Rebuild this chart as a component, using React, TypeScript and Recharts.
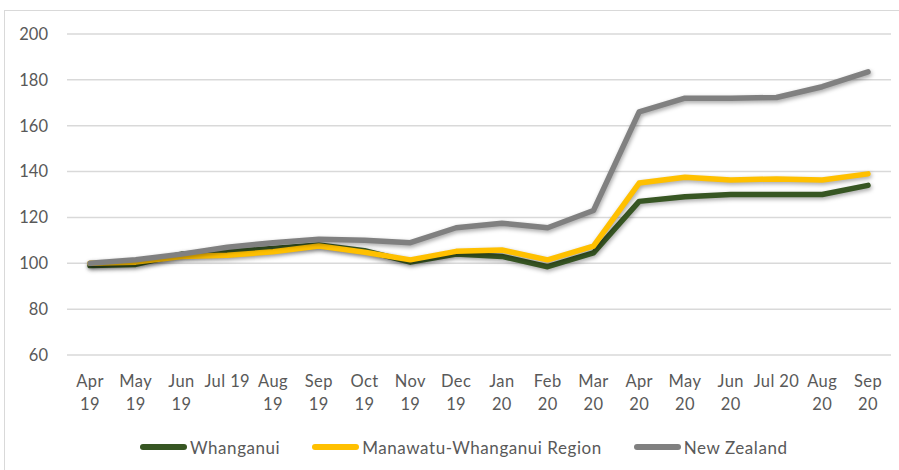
import React from 'react';
import { LineChart, Line, XAxis, YAxis, CartesianGrid, Legend } from 'recharts';

const months = [
  'Apr\n19', 'May\n19', 'Jun\n19', 'Jul 19', 'Aug\n19', 'Sep\n19', 'Oct\n19', 'Nov\n19', 'Dec\n19',
  'Jan\n20', 'Feb\n20', 'Mar\n20', 'Apr\n20', 'May\n20', 'Jun\n20', 'Jul 20', 'Aug\n20', 'Sep\n20',
];

const whanganui = [99, 99.5, 104, 105, 106.5, 108, 105.5, 100.5, 104, 103, 98.5, 104.5, 127, 129, 130, 130, 130, 134];
const manawatu = [100, 100.5, 103, 103.5, 105, 107.5, 104.8, 101.5, 105.2, 105.8, 101.5, 107.5, 135, 137.5, 136.3, 136.8, 136.3, 139];
const newZealand = [100, 101.5, 104, 107, 109, 110.5, 110, 109, 115.5, 117.5, 115.5, 123, 166, 172, 172, 172.3, 177, 183.5];

const yTicks = [60, 80, 100, 120, 140, 160, 180, 200];

const seriesInfo = [
  { key: 'whanganui', name: 'Whanganui', color: '#375623' },
  { key: 'manawatu', name: 'Manawatu-Whanganui Region', color: '#FFC000' },
  { key: 'nz', name: 'New Zealand', color: '#808080' },
];

const data = months.map((m, i) => ({
  month: m,
  whanganui: whanganui[i],
  manawatu: manawatu[i],
  nz: newZealand[i],
}));

const FONT = 'Lato, "Liberation Sans", sans-serif';
const TEXT = '#595959';

const MonthTick = (props: any) => {
  const { x, y, payload } = props;
  const lines = String(payload.value).split('\n');
  return (
    <text x={x} y={y} textAnchor="middle" fill={TEXT} fontSize={16.5} fontFamily={FONT} letterSpacing={0.4}>
      {lines.map((l, i) => (
        <tspan key={i} x={x} dy={i === 0 ? 24 : 23}>{l}</tspan>
      ))}
    </text>
  );
};

const LegendBox = () => (
  <div style={{ display: 'flex', alignItems: 'center', fontFamily: FONT, fontSize: 17, letterSpacing: 0.55, color: TEXT, height: 20 }}>
    {seriesInfo.map((s) => (
      <div key={s.key} style={{ display: 'flex', alignItems: 'center', marginRight: 32 }}>
        <div style={{ width: 47, height: 6, borderRadius: 3, background: s.color, marginRight: 3 }} />
        <span>{s.name}</span>
      </div>
    ))}
  </div>
);

export default function App() {
  return (
    <div
      style={{
        position: 'absolute',
        left: 4,
        top: 10,
        width: 900,
        height: 470,
        borderTop: '1px solid #d9d9d9',
        borderLeft: '1px solid #d9d9d9',
        background: '#fff',
      }}
    >
      <LineChart width={894} height={459} data={data} margin={{ top: 23, right: 8, bottom: 13, left: 0 }}>
        <CartesianGrid horizontal vertical={false} stroke="#d9d9d9" strokeWidth={1.5} />
        <XAxis
          dataKey="month"
          interval={0}
          axisLine={false}
          tickLine={false}
          height={82}
          padding={{ left: 23, right: 23 }}
          tick={<MonthTick />}
        />
        <YAxis
          domain={[60, 200]}
          ticks={yTicks}
          width={62}
          axisLine={false}
          tickLine={false}
          tickSize={0}
          tickMargin={19}
          tick={{ fill: TEXT, fontSize: 16.5, fontFamily: FONT }}
        />
        <Legend verticalAlign="bottom" wrapperStyle={{ left: 135, width: 740 }} content={<LegendBox />} />
        {seriesInfo.map((s) => (
          <Line
            key={s.key}
            type="linear"
            dataKey={s.key}
            name={s.name}
            stroke={s.color}
            strokeWidth={5.5}
            strokeLinejoin="round"
            strokeLinecap="round"
            dot={false}
            activeDot={false}
            isAnimationActive={false}
            style={{ filter: 'drop-shadow(1px 2px 2px rgba(0,0,0,0.35))' }}
          />
        ))}
      </LineChart>
    </div>
  );
}
